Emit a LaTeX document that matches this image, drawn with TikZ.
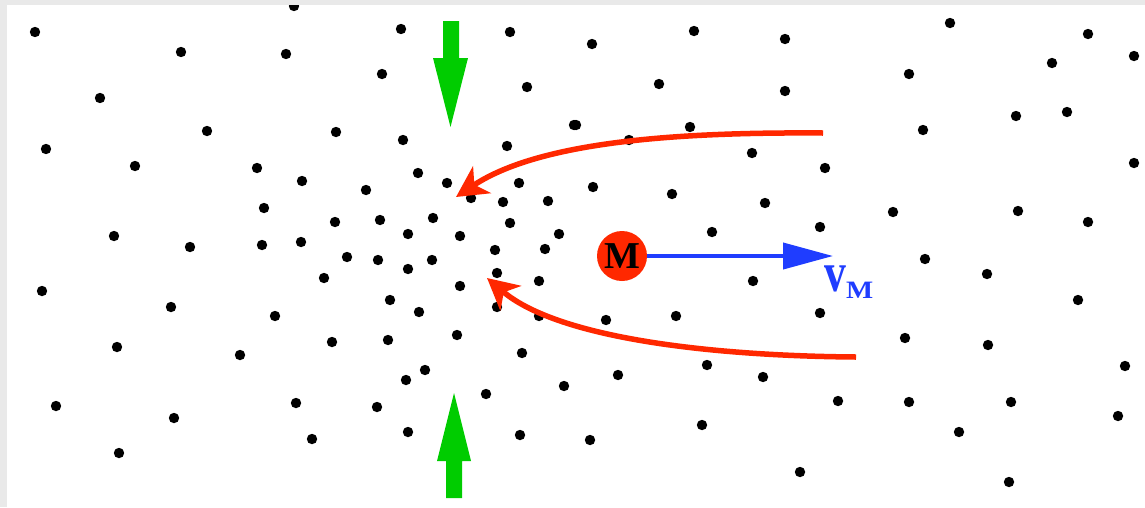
\documentclass[tikz,border=0pt]{standalone}
\usepackage{fontspec}
\usepackage{graphicx}
\setmainfont{Liberation Serif}
\usetikzlibrary{arrows.meta}
\definecolor{pred}{HTML}{FF2800}
\definecolor{pblue}{HTML}{1F3DFF}
\definecolor{pgreen}{HTML}{00CC00}
\definecolor{pgray}{HTML}{E9E9E9}
\tikzset{
  dot/.style={fill=black},
  flow/.style={draw=pred,line width=5.5pt,-{Stealth[length=31pt,width=32pt,inset=9pt]}},
  press/.style={fill=pgreen},
  vel/.style={draw=pblue,line width=4pt,-{Triangle[length=50pt,width=26pt]}},
  mass/.style={circle,fill=pred,minimum size=50pt,inner sep=0pt,font=\fontsize{38}{38}\selectfont\bfseries}
}
\begin{document}
\begin{tikzpicture}[x=1pt,y=-1pt]
\useasboundingbox (0,0) rectangle (1145,507);
\fill[white] (0,0) rectangle (1145,507);
% dots
\foreach \x/\y in {35/32,181/52,286/54,100/98,207/131,46/149,135/166,257/168,264/208,114/236,190/247,262/245,
294/6,401/29,510/32,382/74,527/87,336/132,403/140,574/125,507/146,418/173,447/183,519/183,471/198,503/202,548/201,302/181,366/190,335/222,380/220,433/218,510/223,408/234,460/236,559/234,301/242,347/257,378/260,432/260,495/250,545/249,
592/44,694/31,785/39,659/84,785/91,576/125,690/127,629/140,752/153,825/168,593/187,672/194,765/203,712/232,820/227,
950/23,1088/34,1052/63,1134/56,909/74,1016/116,1067/112,923/130,1134/163,893/212,1018/211,1088/222,925/259,
42/291,171/307,275/316,117/347,240/355,56/406,174/418,119/453,
408/269,324/278,497/273,460/286,539/281,390/300,419/312,497/307,539/316,332/342,388/340,457/335,522/353,425/370,406/380,486/394,564/386,296/403,377/407,312/439,408/432,520/435,
753/281,606/320,676/316,820/313,618/375,707/365,763/377,838/401,702/425,590/440,800/472,
987/274,1078/300,905/338,988/345,1125/366,909/402,1011/402,1118/416,959/432,1009/482}
  \fill[dot] (\x,\y) circle[radius=5.2pt];
% border
\fill[pgray] (0,0) rectangle (1145,4.5);
\fill[pgray] (0,0) rectangle (6.5,507);
% green arrows
\coordinate (gt) at (450.5,127);
\coordinate (gb) at (454,393);
\fill[press] (gt) -- (433,58) -- (443,58) -- (443,21) -- (459,21) -- (459,58) -- (468,58) -- cycle;
\fill[press] (gb) -- (437,461) -- (446,461) -- (446,498) -- (462,498) -- (462,461) -- (471,461) -- cycle;
% red flow lines
\coordinate (r1s) at (823,133);
\coordinate (r1e) at (456,197);
\coordinate (r2s) at (856,357);
\coordinate (r2e) at (487,278);
\draw[flow] (r1s) .. controls (680,132) and (540,141) .. (r1e);
\draw[flow] (r2s) .. controls (720,356) and (560,340) .. (r2e);
% mass and velocity
\node[mass] (M) at (622,256) {M};
\coordinate (vtip) at (833,256);
\draw[vel] (M.east) -- (vtip);
\node[anchor=base west,inner sep=0pt,text=pblue] (vM) at (824,291)
  {\fontsize{56}{56}\selectfont\scalebox{0.78}[1]{\textbf{v}}\raisebox{-7pt}{\fontsize{25}{25}\selectfont\scalebox{1.15}[1]{\textbf{M}}}};
\end{tikzpicture}
\end{document}
